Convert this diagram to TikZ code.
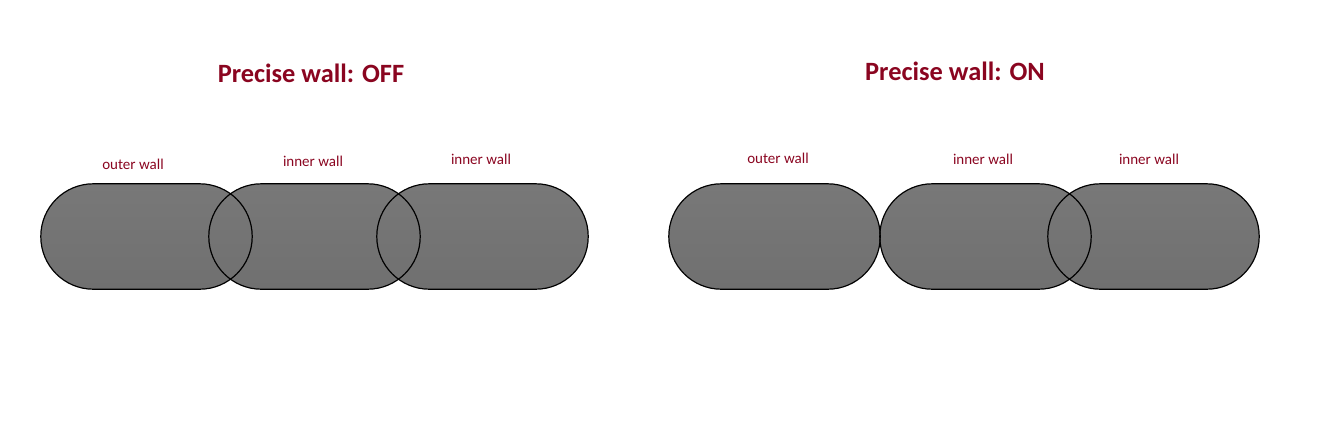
\documentclass[tikz,border=0pt]{standalone}
\usepackage{fontspec}
\setmainfont{Carlito}
\definecolor{wallred}{HTML}{8A0520}
\definecolor{walltop}{HTML}{787878}
\definecolor{wallbot}{HTML}{707070}
\begin{document}
\begin{tikzpicture}[x=1pt,y=-1pt,
  wallbody/.style={rectangle, minimum width=211pt, minimum height=105pt, inner sep=0pt,
    rounded corners=52.5pt, top color=walltop, bottom color=wallbot, draw=none},
  walledge/.style={draw=black, line width=1.2pt, rounded corners=52.5pt},
  walllabel/.style={text=wallred, font=\fontsize{15}{17}\selectfont, inner sep=0pt},
  titletext/.style={text=wallred, font=\bfseries\fontsize{26.4}{30}\selectfont, inner sep=0pt}]
\useasboundingbox (0,0) rectangle (1333,429);
% titles
\node[titletext] (t1) at (311,73) {Precise wall: OFF};
\node[titletext] (t2) at (955,71) {Precise wall: ON};
% OFF bodies
\node[wallbody] (a1) at (146.5,236.5) {};
\node[wallbody] (a2) at (314.5,236.5) {};
\node[wallbody] (a3) at (482.5,236.5) {};
% ON bodies
\node[wallbody] (b1) at (774.5,236.5) {};
\node[wallbody] (b2) at (985.5,236.5) {};
\node[wallbody] (b3) at (1153.5,236.5) {};
% outlines
\foreach \n in {a1,a2,a3,b1,b2,b3}
  \draw[walledge] (\n.south west) rectangle (\n.north east);
% labels
\node[walllabel] (la1) at (133,164) {outer wall};
\node[walllabel] (la2) at (313,161) {inner wall};
\node[walllabel] (la3) at (481,159) {inner wall};
\node[walllabel] (lb1) at (778,158) {outer wall};
\node[walllabel] (lb2) at (983,159) {inner wall};
\node[walllabel] (lb3) at (1149,159) {inner wall};
\end{tikzpicture}
\end{document}
